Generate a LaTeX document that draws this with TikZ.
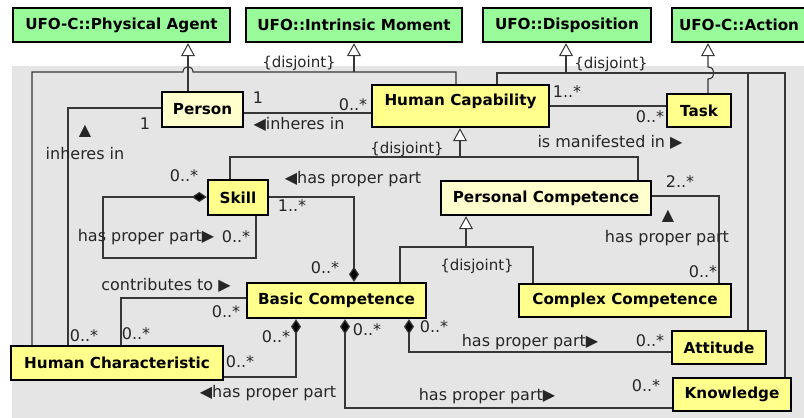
\documentclass[tikz,border=0pt]{standalone}
\usepackage{fontspec}
\setmainfont{DejaVu Sans}
\usetikzlibrary{arrows.meta,calc}
\definecolor{bgray}{RGB}{229,229,229}
\definecolor{ufogreen}{RGB}{153,250,153}
\definecolor{clsyellow}{RGB}{255,255,140}
\definecolor{clspale}{RGB}{255,255,205}
\definecolor{linecol}{RGB}{55,55,55}
\begin{document}
\begin{tikzpicture}[x=1pt,y=-1pt,
  box/.style={draw=black,line width=2.4pt,font=\fontsize{15.2}{18}\selectfont\bfseries,inner sep=0pt,anchor=center},
  ufo/.style={box,fill=ufogreen},
  cls/.style={box,fill=clsyellow},
  pcls/.style={box,fill=clspale},
  conn/.style={draw=linecol,line width=1.1pt},
  gen/.style={conn,-{Triangle[width=14pt,length=13pt,fill=white,line width=1pt]}},
  comp/.style={conn,{Diamond[width=10pt,length=15pt,fill=black]}-},
  lbl/.style={inner sep=0pt,text=black!85,font=\fontsize{16}{19}\selectfont},
  djlbl/.style={lbl,font=\fontsize{15}{18}\selectfont},
]
\clip (0,0) rectangle (804,418);
\fill[bgray] (12,66) rectangle (804,418);

% top level (green) classes
\node[ufo,minimum width=217pt,minimum height=34pt] (pa) at (121.5,25) {UFO-C::Physical Agent};
\node[ufo,minimum width=216pt,minimum height=34pt] (im) at (354,25) {UFO::Intrinsic Moment};
\node[ufo,minimum width=168pt,minimum height=34pt] (disp) at (567,25) {UFO::Disposition};
\node[ufo,minimum width=150pt,minimum height=34pt,align=left,text width=136pt] (act) at (747,25) {UFO-C::Action};

% classes
\node[pcls,minimum width=81pt,minimum height=35pt] (person) at (202.5,109.5) {Person};
\node[cls,minimum width=177pt,minimum height=42pt,text depth=13pt] (hcap) at (460.5,106) {Human Capability};
\node[cls,minimum width=64pt,minimum height=33pt] (task) at (699,110.5) {Task};
\node[cls,minimum width=60pt,minimum height=35pt] (skill) at (238,197.5) {Skill};
\node[pcls,minimum width=210pt,minimum height=34pt] (pc) at (546,198) {Personal Competence};
\node[cls,minimum width=179pt,minimum height=35pt] (bc) at (336.5,300.5) {Basic Competence};
\node[cls,minimum width=212pt,minimum height=33pt] (cc) at (625,300.5) {Complex Competence};
\node[cls,minimum width=212pt,minimum height=34pt] (hch) at (117,363) {Human Characteristic};
\node[cls,minimum width=94pt,minimum height=33pt] (att) at (719,347.5) {Attitude};
\node[cls,minimum width=118pt,minimum height=33pt] (know) at (732,394.5) {Knowledge};

% generalization to Physical Agent
\coordinate (gpa) at (188,72);
\draw[gen] (person.north -| gpa) -- (pa.south -| gpa);

% generalization set to Intrinsic Moment
\coordinate (im1) at (32,72);
\coordinate (im2) at (456,72);
\coordinate (imt) at (354,72);
\draw[conn] (hch.north -| im1) -- (im1) -- (183,72) .. controls (183,65) and (193,65) .. (193,72) -- (im2) -- (hcap.north -| im2);
\draw[gen] (imt) -- (im.south -| imt);

% generalization set to Disposition
\coordinate (d1) at (497,73);
\coordinate (d2) at (748,73);
\coordinate (d3) at (785,73);
\coordinate (dt) at (566,73);
\draw[conn] (hcap.north -| d1) -- (d1) -- (d3) -- (know.north -| d3);
\draw[conn] (d2) -- (att.north -| d2);
\draw[gen] (dt) -- (disp.south -| dt);

% generalization to Action (with hop)
\coordinate (t1) at (708,79);
\coordinate (t2) at (708,67);
\draw[gen] (task.north -| t1) -- (t1) .. controls (716,79) and (716,67) .. (t2) -- (act.south -| t2);

% Person -- Human Capability
\coordinate (a1) at (0,113);
\draw[conn] (person.east |- a1) -- (hcap.west |- a1);
% Human Capability -- Task
\coordinate (a2) at (0,106);
\draw[conn] (hcap.east |- a2) -- (task.west |- a2);
% Person -- Human Characteristic
\coordinate (a3) at (68,108);
\draw[conn] (person.west |- a3) -- (a3) -- (hch.north -| a3);
% Human Characteristic -- Basic Competence (contributes to)
\coordinate (a4) at (121,298);
\draw[conn] (hch.north -| a4) -- (a4) -- (bc.west |- a4);
% Basic Competence <>- Human Characteristic
\coordinate (a5) at (296,377);
\draw[comp] (bc.south -| a5) -- (a5) -- (hch.east |- a5);
% Basic Competence <>- Knowledge
\coordinate (a6) at (345,408);
\draw[comp] (bc.south -| a6) -- (a6) -- (know.west |- a6);
% Basic Competence <>- Attitude
\coordinate (a7) at (409,352);
\draw[comp] (bc.south -| a7) -- (a7) -- (att.west |- a7);
% Skill <>- Skill
\coordinate (a8) at (103,197);
\coordinate (a9) at (103,258);
\coordinate (a10) at (256,258);
\draw[comp] (skill.west |- a8) -- (a8) -- (a9) -- (a10) -- (skill.south -| a10);
% Basic Competence <>- Skill
\coordinate (a11) at (354,197);
\draw[comp] (bc.north -| a11) -- (a11) -- (skill.east |- a11);
% specialization of Human Capability
\coordinate (s1) at (230,157);
\coordinate (s2) at (638,157);
\coordinate (st) at (460,157);
\draw[conn] (skill.north -| s1) -- (s1) -- (s2) -- (pc.north -| s2);
\draw[gen] (st) -- (hcap.south -| st);
% specialization of Personal Competence
\coordinate (p1) at (400,247);
\coordinate (p2) at (533,247);
\coordinate (pt) at (466,247);
\draw[conn] (bc.north -| p1) -- (p1) -- (p2) -- (cc.north -| p2);
\draw[gen] (pt) -- (pc.south -| pt);
% Personal Competence -- Complex Competence
\coordinate (a12) at (719,196);
\draw[conn] (pc.east |- a12) -- (a12) -- (cc.north -| a12);

% labels
\node[djlbl] (dj1) at (299,63) {\{disjoint\}};
\node[djlbl] (dj2) at (611,64) {\{disjoint\}};
\node[djlbl] (dj3) at (407,149) {\{disjoint\}};
\node[djlbl] (dj4) at (477,266) {\{disjoint\}};

\node[lbl] (m1) at (258,98) {1};
\node[lbl] (m2) at (353,105) {0..*};
\node[lbl] (r1) at (299,124) {◀inheres in};

\node[lbl] (m3) at (567,92) {1..*};
\node[lbl] (m4) at (650,117) {0..*};
\node[lbl] (r2) at (610,142) {is manifested in ▶};

\node[lbl] (m5) at (145,124) {1};
\node[lbl] (r3a) at (85,131) {▲};
\node[lbl] (r3) at (85,154) {inheres in};
\node[lbl] (m6) at (84,336) {0..*};

\node[lbl] (r4) at (166,285) {contributes to ▶};
\node[lbl] (m7) at (136,334) {0..*};
\node[lbl] (m8) at (226,312) {0..*};

\node[lbl] (m9) at (240,362) {0..*};
\node[lbl] (m10) at (276,337) {0..*};
\node[lbl] (r5) at (268,393) {◀has proper part};

\node[lbl] (m11) at (367,330) {0..*};
\node[lbl] (r6) at (487,396) {has proper part▶};
\node[lbl] (m12) at (646,386) {0..*};

\node[lbl] (m13) at (434,327) {0..*};
\node[lbl] (r7) at (530,342) {has proper part▶};
\node[lbl] (m14) at (650,341) {0..*};

\node[lbl] (m15) at (184,176) {0..*};
\node[lbl] (r8) at (146,237) {has proper part▶};
\node[lbl] (m16) at (236,237) {0..*};

\node[lbl] (m17) at (292,206) {1..*};
\node[lbl] (m18) at (325,268) {0..*};
\node[lbl] (r9) at (353,179) {◀has proper part};

\node[lbl] (m19) at (680,182) {2..*};
\node[lbl] (r10a) at (668,216) {▲};
\node[lbl] (r10) at (667,238) {has proper part};
\node[lbl] (m20) at (703,272) {0..*};
\end{tikzpicture}
\end{document}
